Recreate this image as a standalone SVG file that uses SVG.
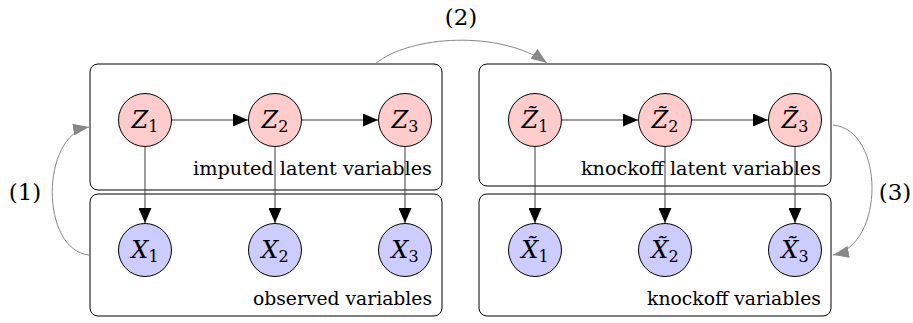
<svg xmlns="http://www.w3.org/2000/svg" width="913" height="323" viewBox="0 0 913 323" font-family="'DejaVu Serif', serif">
<defs>
<style>
.box{fill:none;stroke:#000;stroke-width:1}
.z{fill:#ffcccc;stroke:#000;stroke-width:1}
.x{fill:#ccccff;stroke:#000;stroke-width:1}
.edge{fill:none;stroke:#3a3a3a;stroke-width:1}
.step{fill:none;stroke:#888;stroke-width:1}
.var{font-style:italic;font-size:24px;fill:#000}
.sub{font-style:normal;font-size:16px}
.lbl{font-size:18px;fill:#000}
.num{font-size:23px;fill:#000}
</style>
<marker id="ah" markerWidth="15" markerHeight="13" refX="15" refY="6.5" orient="auto" markerUnits="userSpaceOnUse">
<path d="M0,0 L15,6.5 L0,13 Z" fill="#000"/>
</marker>
<marker id="gh" markerWidth="16" markerHeight="12" refX="16" refY="6" orient="auto" markerUnits="userSpaceOnUse">
<path d="M0,0 L16,6 L0,12 Z" fill="#888"/>
</marker>
</defs>
<rect width="913" height="323" fill="#fff"/>

<g id="box-imputed">
<rect class="box" x="90" y="64" width="352" height="126" rx="8"/>
<text class="lbl" x="432" y="175" text-anchor="end" textLength="239" lengthAdjust="spacingAndGlyphs">imputed latent variables</text>
</g>
<g id="box-observed">
<rect class="box" x="90" y="194" width="352" height="122" rx="8"/>
<text class="lbl" x="432" y="305" text-anchor="end" textLength="179" lengthAdjust="spacingAndGlyphs">observed variables</text>
</g>
<g id="box-knockoff-latent">
<rect class="box" x="479" y="64" width="352" height="122" rx="8"/>
<text class="lbl" x="821" y="175" text-anchor="end" textLength="240" lengthAdjust="spacingAndGlyphs">knockoff latent variables</text>
</g>
<g id="box-knockoff">
<rect class="box" x="479" y="194" width="352" height="122" rx="8"/>
<text class="lbl" x="821" y="305" text-anchor="end" textLength="174" lengthAdjust="spacingAndGlyphs">knockoff variables</text>
</g>

<g id="connectors">
<path class="edge" d="M172,120 H248" marker-end="url(#ah)"/>
<path class="edge" d="M302,120 H378" marker-end="url(#ah)"/>
<path class="edge" d="M145,147 V223" marker-end="url(#ah)"/>
<path class="edge" d="M275,147 V223" marker-end="url(#ah)"/>
<path class="edge" d="M405,147 V223" marker-end="url(#ah)"/>
<path class="edge" d="M562,120 H638" marker-end="url(#ah)"/>
<path class="edge" d="M692,120 H768" marker-end="url(#ah)"/>
<path class="edge" d="M535,147 V223" marker-end="url(#ah)"/>
<path class="edge" d="M665,147 V223" marker-end="url(#ah)"/>
<path class="edge" d="M795,147 V223" marker-end="url(#ah)"/>
<path class="step" d="M89,255 C40,250 40,135 89,127" marker-end="url(#gh)"/>
<path class="step" d="M375,64 C410,35 500,30 547,63" marker-end="url(#gh)"/>
<path class="step" d="M833,125 C885,130 885,245 833,255" marker-end="url(#gh)"/>
<text class="num" x="25" y="200" text-anchor="middle">(1)</text>
<text class="num" x="461" y="25" text-anchor="middle">(2)</text>
<text class="num" x="895" y="200" text-anchor="middle">(3)</text>
</g>

<g id="Z1"><circle class="z" cx="145" cy="120" r="26.5"/><text class="var" x="145" y="128" text-anchor="middle">Z<tspan class="sub" dy="4">1</tspan></text></g>
<g id="Z2"><circle class="z" cx="275" cy="120" r="26.5"/><text class="var" x="275" y="128" text-anchor="middle">Z<tspan class="sub" dy="4">2</tspan></text></g>
<g id="Z3"><circle class="z" cx="405" cy="120" r="26.5"/><text class="var" x="405" y="128" text-anchor="middle">Z<tspan class="sub" dy="4">3</tspan></text></g>
<g id="X1"><circle class="x" cx="145" cy="250" r="26.5"/><text class="var" x="145" y="258" text-anchor="middle">X<tspan class="sub" dy="4">1</tspan></text></g>
<g id="X2"><circle class="x" cx="275" cy="250" r="26.5"/><text class="var" x="275" y="258" text-anchor="middle">X<tspan class="sub" dy="4">2</tspan></text></g>
<g id="X3"><circle class="x" cx="405" cy="250" r="26.5"/><text class="var" x="405" y="258" text-anchor="middle">X<tspan class="sub" dy="4">3</tspan></text></g>
<g id="Zt1"><circle class="z" cx="535" cy="120" r="26.5"/><text class="var" x="535" y="128" text-anchor="middle">Z̃<tspan class="sub" dy="4">1</tspan></text></g>
<g id="Zt2"><circle class="z" cx="665" cy="120" r="26.5"/><text class="var" x="665" y="128" text-anchor="middle">Z̃<tspan class="sub" dy="4">2</tspan></text></g>
<g id="Zt3"><circle class="z" cx="795" cy="120" r="26.5"/><text class="var" x="795" y="128" text-anchor="middle">Z̃<tspan class="sub" dy="4">3</tspan></text></g>
<g id="Xt1"><circle class="x" cx="535" cy="250" r="26.5"/><text class="var" x="535" y="258" text-anchor="middle">X̃<tspan class="sub" dy="4">1</tspan></text></g>
<g id="Xt2"><circle class="x" cx="665" cy="250" r="26.5"/><text class="var" x="665" y="258" text-anchor="middle">X̃<tspan class="sub" dy="4">2</tspan></text></g>
<g id="Xt3"><circle class="x" cx="795" cy="250" r="26.5"/><text class="var" x="795" y="258" text-anchor="middle">X̃<tspan class="sub" dy="4">3</tspan></text></g>
</svg>
